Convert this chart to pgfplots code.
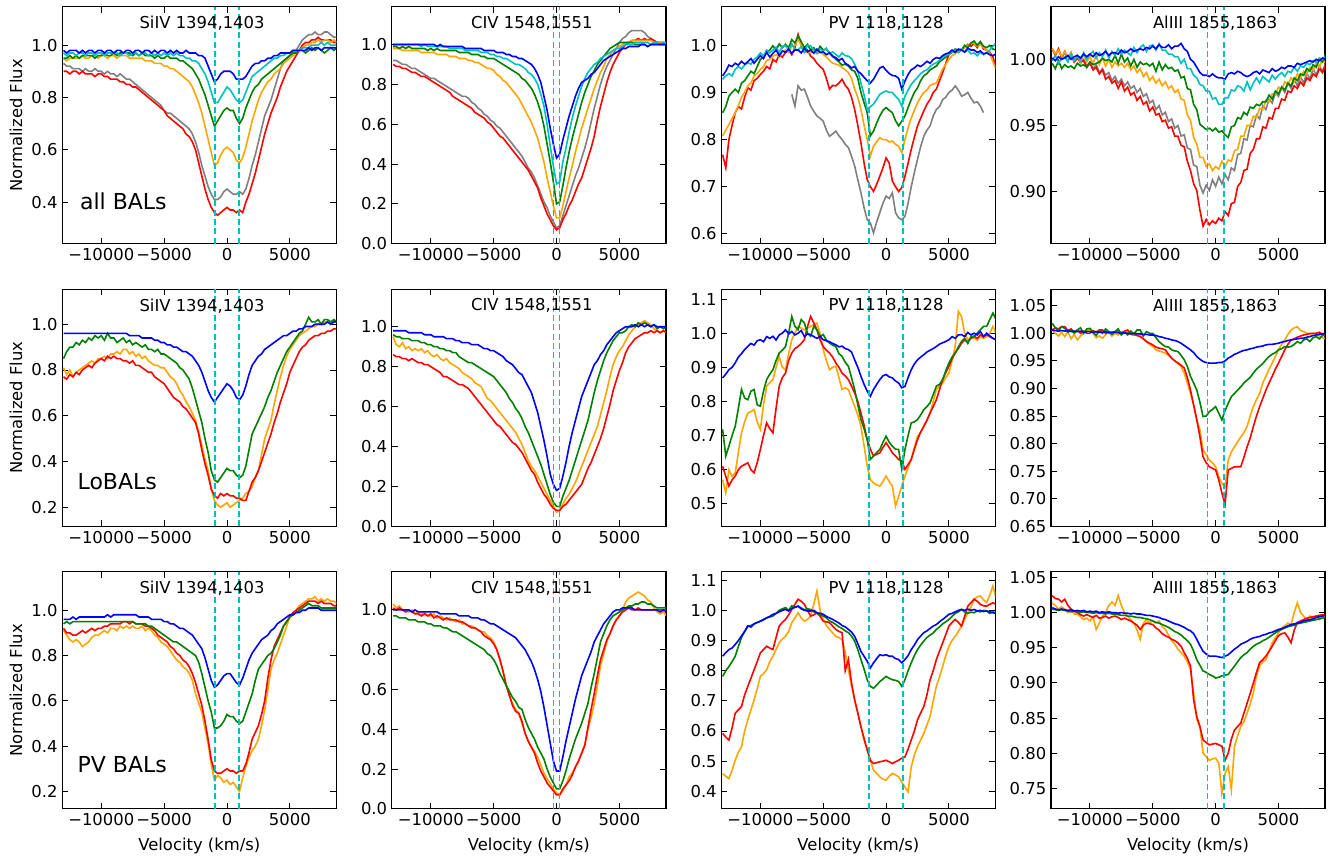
\documentclass[border=0pt]{standalone}
\usepackage{fontspec}
\setmainfont{DejaVu Sans}
\usepackage{pgfplots}
\usepackage{pgfplotstable}
\pgfplotsset{compat=1.18}
\usepgfplotslibrary{groupplots}
\definecolor{cc}{rgb}{0,0.75,0.75}
\definecolor{cg}{rgb}{0,0.5,0}
\definecolor{co}{rgb}{1,0.647,0}
\definecolor{cgr}{rgb}{0.5,0.5,0.5}
\newcommand\tk{\fontsize{12.3}{14}\selectfont}
\newcommand\bg{\fontsize{16.5}{19}\selectfont}
\tikzset{dln/.style={draw=cc,color=cc,line width=1.15pt,dash pattern=on 4.5pt off 2.5pt},
  ttl/.style={font=\tk,inner sep=0pt},
  big/.style={font=\bg,inner sep=0pt,anchor=west}}

\pgfplotstableread[header=false]{
v -13000 -12750 -12500 -12250  -12000 -11750 -11500 -11250  -11000 -10750 -10500 -10250  -10000 -9750 -9500 -9250  -9000 -8750 -8500 -8250  -8000 -7750 -7500 -7250  -7000 -6750 -6500 -6250  -6000 -5750 -5500 -5250  -5000 -4750 -4500 -4250  -4000 -3750 -3500 -3250  -3000 -2750 -2500 -2250  -2000 -1750 -1500 -1250  -1000 -750 -500 -250  0 250 500 750  1000 1250 1500 1750  2000 2250 2500 2750  3000 3250 3500 3750  4000 4250 4500 4750  5000 5250 5500 5750  6000 6250 6500 6750  7000 7250 7500 7750  8000 8250 8500 8750
p11g 0.93 0.92 0.92 0.91  0.91 0.91 0.90 0.91  0.90 0.90 0.91 0.90  0.90 0.89 0.90 0.89  0.89 0.88 0.89 0.88  0.87 0.87 0.86 0.85  0.84 0.83 0.82 0.81  0.80 0.79 0.78 0.77  0.75 0.74 0.74 0.73  0.72 0.71 0.70 0.69  0.68 0.66 0.63 0.59  0.54 0.50 0.46 0.43  0.41 0.41 0.42 0.44  0.45 0.44 0.43 0.43  0.44 0.43 0.45 0.49  0.54 0.58 0.63 0.68  0.73 0.76 0.79 0.83  0.87 0.91 0.94 0.95  0.96 0.97 0.98 1.00  1.02 1.03 1.04 1.04  1.05 1.04 1.04 1.05  1.05 1.04 1.03 1.03
p11r 0.90 0.90 0.89 0.90  0.90 0.89 0.90 0.89  0.89 0.89 0.88 0.89  0.89 0.88 0.88 0.87  0.87 0.87 0.86 0.86  0.85 0.85 0.84 0.84  0.83 0.82 0.81 0.80  0.79 0.78 0.77 0.76  0.75 0.73 0.72 0.71  0.70 0.69 0.68 0.66  0.65 0.63 0.60 0.55  0.50 0.45 0.41 0.38  0.36 0.35 0.36 0.37  0.38 0.37 0.37 0.36  0.37 0.36 0.40 0.43  0.47 0.51 0.56 0.61  0.66 0.70 0.74 0.77  0.80 0.84 0.87 0.90  0.92 0.94 0.96 0.98  1.00 1.01 1.01 1.02  1.02 1.03 1.02 1.02  1.02 1.02 1.01 1.01
p11o 0.95 0.94 0.95 0.95  0.95 0.95 0.96 0.95  0.95 0.96 0.96 0.95  0.96 0.96 0.95 0.96  0.96 0.95 0.96 0.96  0.96 0.95 0.95 0.95  0.95 0.95 0.94 0.94  0.94 0.93 0.93 0.93  0.92 0.92 0.91 0.91  0.90 0.89 0.88 0.87  0.86 0.84 0.81 0.78  0.74 0.69 0.64 0.59  0.54 0.55 0.58 0.60  0.61 0.60 0.59 0.56  0.55 0.57 0.61 0.66  0.71 0.75 0.79 0.82  0.84 0.86 0.87 0.89  0.90 0.91 0.93 0.94  0.95 0.96 0.97 0.98  0.99 1.00 1.00 1.01  1.01 1.02 1.01 1.02  1.02 1.01 1.02 1.01
p11n 0.95 0.95 0.96 0.95  0.96 0.95 0.96 0.96  0.96 0.96 0.95 0.96  0.96 0.97 0.96 0.96  0.97 0.96 0.97 0.97  0.97 0.97 0.96 0.97  0.96 0.97 0.96 0.96  0.96 0.95 0.96 0.95  0.95 0.96 0.95 0.95  0.95 0.94 0.94 0.93  0.92 0.91 0.89 0.87  0.84 0.81 0.77 0.73  0.69 0.71 0.73 0.75  0.76 0.75 0.75 0.72  0.70 0.72 0.76 0.79  0.82 0.84 0.85 0.87  0.88 0.89 0.90 0.91  0.92 0.93 0.94 0.95  0.96 0.97 0.97 0.98  0.98 0.97 0.98 0.99  0.98 0.99 0.98 0.97  0.98 0.99 0.98 0.99
p11c 0.97 0.96 0.97 0.97  0.96 0.97 0.97 0.96  0.97 0.97 0.96 0.97  0.97 0.96 0.97 0.97  0.97 0.97 0.96 0.97  0.97 0.96 0.97 0.97  0.96 0.97 0.97 0.96  0.97 0.96 0.97 0.96  0.97 0.96 0.97 0.96  0.97 0.96 0.96 0.95  0.95 0.94 0.94 0.93  0.91 0.89 0.86 0.82  0.78 0.78 0.80 0.82  0.84 0.83 0.81 0.79  0.78 0.79 0.82 0.85  0.88 0.89 0.90 0.91  0.92 0.93 0.94 0.95  0.95 0.96 0.96 0.97  0.97 0.98 0.98 0.98  0.99 0.99 0.99 1.00  1.00 1.00 1.01 1.00  1.01 1.00 1.00 1.00
p11b 0.98 0.97 0.98 0.98  0.98 0.97 0.98 0.97  0.98 0.98 0.97 0.98  0.98 0.97 0.98 0.98  0.97 0.98 0.98 0.97  0.98 0.98 0.97 0.98  0.98 0.97 0.98 0.98  0.97 0.98 0.97 0.98  0.98 0.97 0.98 0.97  0.98 0.97 0.97 0.98  0.97 0.97 0.97 0.96  0.96 0.95 0.92 0.89  0.86 0.87 0.89 0.90  0.90 0.90 0.89 0.87  0.87 0.87 0.88 0.90  0.92 0.93 0.93 0.94  0.94 0.95 0.95 0.96  0.96 0.97 0.97 0.97  0.97 0.98 0.98 0.98  0.98 0.98 0.99 0.98  0.99 0.99 0.98 0.99  0.99 0.99 0.99 0.99
p12g 0.92 0.92 0.91 0.90  0.90 0.89 0.88 0.88  0.87 0.86 0.85 0.84  0.83 0.83 0.82 0.81  0.80 0.79 0.78 0.77  0.76 0.75 0.74 0.74  0.73 0.71 0.70 0.68  0.67 0.65 0.64 0.62  0.61 0.59 0.58 0.56  0.54 0.52 0.50 0.48  0.46 0.44 0.41 0.38  0.36 0.33 0.29 0.25  0.21 0.18 0.14 0.11  0.08 0.09 0.14 0.19  0.24 0.29 0.34 0.38  0.43 0.48 0.54 0.61  0.68 0.74 0.80 0.85  0.89 0.92 0.95 0.98  1.01 1.03 1.04 1.06  1.07 1.07 1.07 1.07  1.06 1.04 1.03 1.02  1.01 1.01 1.00 1.01
p12r 0.90 0.89 0.89 0.88  0.88 0.87 0.86 0.86  0.85 0.84 0.84 0.83  0.82 0.81 0.80 0.79  0.78 0.77 0.76 0.74  0.73 0.72 0.71 0.70  0.69 0.68 0.66 0.65  0.64 0.63 0.61 0.60  0.58 0.56 0.54 0.53  0.51 0.49 0.47 0.45  0.43 0.41 0.39 0.37  0.34 0.31 0.28 0.23  0.19 0.15 0.12 0.09  0.07 0.08 0.12 0.15  0.19 0.22 0.26 0.30  0.33 0.38 0.43 0.48  0.54 0.62 0.69 0.75  0.81 0.86 0.90 0.93  0.96 0.98 1.00 1.01  1.02 1.02 1.03 1.02  1.03 1.02 1.03 1.02  1.01 1.01 1.01 1.00
p12o 0.98 0.98 0.98 0.97  0.97 0.97 0.97 0.97  0.97 0.96 0.96 0.96  0.96 0.96 0.95 0.95  0.95 0.95 0.94 0.94  0.94 0.93 0.93 0.93  0.92 0.92 0.91 0.91  0.90 0.89 0.88 0.88  0.87 0.85 0.84 0.82  0.81 0.79 0.77 0.75  0.73 0.70 0.67 0.64  0.61 0.57 0.53 0.47  0.41 0.33 0.26 0.19  0.13 0.13 0.19 0.26  0.33 0.39 0.46 0.52  0.58 0.63 0.68 0.73  0.78 0.82 0.86 0.89  0.93 0.95 0.97 0.98  0.99 1.00 1.01 1.01  1.02 1.02 1.02 1.02  1.02 1.02 1.02 1.01  1.01 1.01 1.01 1.00
p12n 0.99 0.99 0.98 0.99  0.98 0.99 0.98 0.98  0.98 0.98 0.98 0.97  0.98 0.97 0.98 0.97  0.97 0.97 0.97 0.97  0.97 0.96 0.96 0.96  0.96 0.95 0.95 0.95  0.94 0.94 0.93 0.93  0.93 0.92 0.91 0.90  0.89 0.88 0.87 0.86  0.85 0.83 0.82 0.80  0.78 0.75 0.71 0.66  0.59 0.50 0.41 0.31  0.20 0.21 0.29 0.38  0.46 0.53 0.59 0.65  0.71 0.76 0.80 0.84  0.87 0.90 0.92 0.94  0.96 0.98 0.99 1.00  1.01 1.01 1.01 1.01  1.01 1.00 1.00 1.00  1.00 0.99 1.00 1.00  1.00 1.00 1.00 1.00
p12c 1.00 1.00 1.00 1.00  1.00 1.00 1.00 1.00  1.00 0.99 1.00 0.99  0.99 0.99 0.99 0.99  0.99 0.99 0.98 0.98  0.98 0.98 0.98 0.97  0.97 0.97 0.97 0.97  0.96 0.96 0.96 0.95  0.95 0.94 0.94 0.93  0.93 0.92 0.91 0.90  0.90 0.89 0.88 0.86  0.85 0.83 0.80 0.75  0.69 0.60 0.49 0.39  0.30 0.31 0.41 0.48  0.56 0.63 0.69 0.74  0.79 0.83 0.86 0.88  0.90 0.91 0.93 0.94  0.95 0.96 0.97 0.98  0.98 0.99 1.00 1.00  1.00 1.01 1.01 1.01  1.01 1.01 1.00 1.01  1.01 1.00 1.01 1.01
p12b 1.00 1.00 1.00 1.00  1.00 1.00 1.00 1.00  1.00 1.00 1.00 1.00  1.00 1.00 0.99 1.00  0.99 0.99 0.99 0.99  0.99 0.99 0.99 0.98  0.98 0.98 0.98 0.98  0.98 0.97 0.97 0.97  0.97 0.96 0.96 0.96  0.95 0.95 0.94 0.94  0.93 0.93 0.92 0.91  0.90 0.88 0.85 0.81  0.74 0.67 0.58 0.50  0.43 0.45 0.52 0.58  0.64 0.69 0.74 0.78  0.81 0.82 0.83 0.85  0.86 0.88 0.90 0.92  0.93 0.94 0.95 0.96  0.97 0.98 0.98 0.99  0.99 0.99 0.99 1.00  1.00 0.99 1.00 1.00  1.00 1.00 1.00 1.00
p13g nan nan nan nan  nan nan nan nan  nan nan nan nan  nan nan nan nan  nan nan nan nan  nan nan 0.896 0.871  0.914 0.905 0.907 0.89  0.871 0.86 0.85 0.845  0.839 0.82 0.807 0.812  0.818 0.808 0.8 0.79  0.783 0.765 0.744 0.715  0.687 0.655 0.63 0.623  0.602 0.625 0.645 0.665  0.68 0.675 0.687 0.645  0.634 0.63 0.637 0.665  0.7 0.73 0.758 0.785  0.807 0.82 0.829 0.85  0.864 0.87 0.885 0.89  0.9 0.905 0.914 0.905  0.892 0.895 0.9 0.888  0.878 0.88 0.871 0.857  nan nan nan nan
p13r 0.768 0.74 0.8 0.83  0.857 0.87 0.865 0.89  0.91 0.905 0.925 0.93  0.938 0.945 0.955 0.95  0.97 0.965 0.98 0.975  0.985 0.99 0.98 0.995  1.023 1.0 0.985 0.99  0.977 0.972 0.962 0.955  0.949 0.93 0.907 0.915  0.914 0.92 0.928 0.915  0.907 0.89 0.864 0.83  0.793 0.75 0.715 0.7  0.69 0.705 0.722 0.74  0.761 0.75 0.712 0.7  0.69 0.698 0.722 0.75  0.779 0.805 0.829 0.845  0.861 0.875 0.885 0.9  0.907 0.925 0.942 0.962  0.981 0.985 0.99 0.985  0.99 0.995 1.002 0.998  1.004 0.995 1.005 0.992  0.99 0.985 0.975 0.953
p13o 0.808 0.82 0.832 0.845  0.857 0.872 0.89 0.9  0.914 0.92 0.935 0.94  0.949 0.955 0.968 0.97  0.977 0.98 0.975 0.988  0.99 0.985 0.998 1.0  1.013 1.0 0.99 0.985  0.984 0.99 0.982 0.985  0.981 0.975 0.968 0.962  0.96 0.958 0.953 0.948  0.942 0.93 0.907 0.89  0.864 0.83 0.8 0.765  0.786 0.795 0.804 0.8  0.8 0.795 0.797 0.79  0.786 0.772 0.8 0.825  0.846 0.862 0.878 0.89  0.9 0.905 0.915 0.918  0.92 0.935 0.95 0.96  0.97 0.978 0.982 0.988  0.99 0.995 1.0 1.004  1.004 0.998 1.002 0.995  0.99 0.982 0.965 0.949
p13n 0.857 0.87 0.892 0.9  0.907 0.9 0.92 0.925  0.935 0.945 0.94 0.955  0.97 0.975 0.985 0.99  0.999 0.99 1.003 0.995  1.002 0.995 1.012 1.005  1.02 1.008 0.995 1.002  0.99 0.995 0.985 0.998  0.99 0.992 0.984 0.978  0.97 0.965 0.958 0.96  0.956 0.948 0.945 0.93  0.9 0.878 0.857 0.808  0.818 0.835 0.85 0.862  0.868 0.862 0.857 0.84  0.829 0.839 0.85 0.868  0.885 0.9 0.91 0.925  0.935 0.94 0.948 0.952  0.956 0.965 0.97 0.975  0.981 0.985 0.992 0.99  0.99 1.0 0.995 1.005  1.009 1.0 1.008 0.998  0.995 1.0 0.992 0.99
p13c 0.928 0.935 0.94 0.935  0.949 0.955 0.95 0.958  0.963 0.96 0.97 0.975  0.984 0.978 0.99 0.984  0.99 0.996 0.985 0.998  0.999 0.99 1.003 0.992  0.99 0.997 0.986 1.0  0.999 0.99 0.985 0.992  0.988 0.994 0.982 0.986  0.981 0.975 0.984 0.978  0.977 0.972 0.96 0.945  0.92 0.895 0.864 0.87  0.875 0.885 0.896 0.9  0.903 0.9 0.9 0.892  0.885 0.871 0.892 0.905  0.917 0.925 0.932 0.94  0.945 0.948 0.955 0.96  0.963 0.968 0.975 0.978  0.981 0.986 0.99 0.985  0.992 0.985 0.99 0.982  0.984 0.978 0.985 0.98  0.984 0.99 0.998 1.005
p13b 0.935 0.945 0.958 0.955  0.962 0.958 0.966 0.96  0.965 0.972 0.962 0.97  0.978 0.972 0.985 0.975  0.983 0.99 0.978 0.988  0.985 0.992 0.983 0.99  0.99 0.984 0.994 0.986  0.99 0.983 0.992 0.985  0.986 0.98 0.984 0.976  0.974 0.968 0.972 0.962  0.958 0.952 0.955 0.945  0.94 0.932 0.925 0.92  0.928 0.94 0.952 0.955  0.947 0.94 0.936 0.935  0.93 0.907 0.924 0.938  0.948 0.952 0.958 0.955  0.96 0.966 0.962 0.97  0.974 0.972 0.978 0.982  0.984 0.99 0.985 0.992  0.99 0.986 0.994 0.99  0.99 0.985 0.988 0.982  0.984 0.98 0.978 0.982
p14g 1.008 1.004 1.007 1.002  1.005 1.0 1.003 0.998  1.002 0.997 1.0 0.995  0.998 0.993 0.996 0.99  0.993 0.988 0.99 0.984  0.987 0.982 0.985 0.98  0.983 0.978 0.98 0.975  0.978 0.972 0.974 0.967  0.969 0.962 0.965 0.958  0.96 0.953 0.955 0.948  0.95 0.942 0.943 0.933  0.932 0.92 0.919 0.905  0.899 0.905 0.901 0.909  0.904 0.911 0.906 0.913  0.909 0.918 0.916 0.928  0.929 0.94 0.939 0.95  0.949 0.958 0.955 0.965  0.962 0.97 0.967 0.975  0.972 0.979 0.975 0.982  0.978 0.985 0.98 0.987  0.982 0.99 0.985 0.993  0.988 0.995 0.991 0.997
p14r 1.008 1.003 1.008 1.001  1.006 1.0 1.005 0.998  1.001 0.998 0.999 0.994  0.997 0.992 0.994 0.989  0.992 0.985 0.987 0.982  0.984 0.978 0.983 0.976  0.979 0.973 0.975 0.969  0.972 0.966 0.968 0.961  0.964 0.958 0.959 0.953  0.954 0.948 0.949 0.942  0.942 0.935 0.934 0.923  0.916 0.906 0.901 0.886  0.874 0.879 0.875 0.878  0.876 0.88 0.878 0.885  0.882 0.891 0.892 0.904  0.907 0.916 0.917 0.929  0.932 0.94 0.94 0.949  0.948 0.956 0.955 0.963  0.963 0.97 0.969 0.976  0.975 0.98 0.978 0.983  0.98 0.986 0.984 0.989  0.987 0.993 0.99 0.996
p14o 1.008 1.004 1.007 1.002  1.006 1.0 1.005 0.999  1.003 0.998 1.004 0.998  1.002 0.997 1.003 0.996  1.001 0.995 1.0 0.994  0.998 0.995 0.997 0.994  0.997 0.992 0.995 0.99  0.993 0.987 0.99 0.984  0.987 0.982 0.985 0.98  0.983 0.978 0.98 0.975  0.977 0.97 0.969 0.958  0.954 0.941 0.936 0.926  0.926 0.919 0.921 0.916  0.919 0.917 0.923 0.919  0.924 0.923 0.931 0.932  0.942 0.942 0.95 0.95  0.957 0.956 0.963 0.962  0.969 0.968 0.974 0.973  0.979 0.977 0.983 0.981  0.986 0.983 0.989 0.986  0.991 0.989 0.994 0.992  0.997 0.994 1.0 0.997
p14n 0.997 0.993 0.999 0.993  0.996 0.994 0.995 0.993  0.997 0.995 0.996 0.994  0.998 0.996 0.997 0.998  1.001 0.999 1.0 0.998  1.003 0.997 1.004 0.998  1.001 0.995 1.0 0.994  0.998 0.996 0.997 0.995  0.997 0.991 0.998 0.992  0.996 0.993 0.994 0.991  0.992 0.986 0.987 0.978  0.977 0.966 0.962 0.951  0.949 0.947 0.948 0.946  0.948 0.945 0.946 0.943  0.941 0.949 0.95 0.956  0.955 0.96 0.958 0.964  0.963 0.966 0.965 0.968  0.968 0.973 0.97 0.976  0.974 0.979 0.977 0.982  0.98 0.986 0.984 0.989  0.988 0.993 0.991 0.996  0.994 1.0 0.998 1.004
p14c 0.999 1.003 0.997 1.001  1.002 0.998 1.004 0.999  1.003 0.999 1.005 1.0  1.004 1.006 1.001 1.005  1.002 1.007 1.001 1.006  1.003 1.008 1.004 1.007  1.005 1.003 1.009 1.005  1.009 1.011 1.006 1.01  1.011 1.007 1.012 1.007  1.007 1.004 1.004 1.002  1.002 0.997 1.0 0.993  0.993 0.988 0.986 0.981  0.98 0.976 0.976 0.97  0.971 0.966 0.966 0.971  0.971 0.977 0.976 0.98  0.979 0.976 0.983 0.977  0.982 0.986 0.982 0.987  0.985 0.983 0.988 0.985  0.988 0.99 0.987 0.991  0.99 0.994 0.991 0.995  0.994 0.997 0.996 0.999  0.998 1.001 1.0 1.002
p14b 1.001 0.999 1.002 1.0  1.001 1.003 1.0 1.002  1.003 1.001 1.004 1.002  1.004 1.002 1.005 1.003  1.004 1.006 1.003 1.005  1.005 1.004 1.007 1.005  1.006 1.008 1.006 1.007  1.008 1.007 1.009 1.008  1.01 1.008 1.011 1.009  1.009 1.011 1.008 1.01  1.01 1.012 1.008 1.006  1.0 0.998 0.994 0.99  0.988 0.988 0.987 0.989  0.987 0.986 0.986 0.985  0.989 0.99 0.989 0.991  0.99 0.988 0.987 0.988  0.99 0.991 0.989 0.992  0.991 0.99 0.993 0.991  0.992 0.994 0.993 0.995  0.995 0.994 0.997 0.996  0.997 0.998 0.999 0.998  1.0 0.999 1.001 1.0
p21o 0.81 0.78 0.80 0.77  0.79 0.80 0.81 0.82  0.83 0.84 0.83 0.85  0.85 0.86 0.85 0.87  0.87 0.88 0.87 0.89  0.89 0.87 0.88 0.86  0.87 0.85 0.86 0.84  0.83 0.82 0.82 0.81  0.81 0.79 0.77 0.76  0.74 0.71 0.69 0.66  0.64 0.61 0.58 0.53  0.47 0.41 0.36 0.28  0.23 0.21 0.20 0.21  0.22 0.20 0.21 0.22  0.23 0.24 0.26 0.27  0.29 0.33 0.36 0.43  0.50 0.54 0.58 0.65  0.71 0.77 0.82 0.86  0.89 0.91 0.93 0.95  0.96 0.97 0.98 0.99  0.99 1.00 1.00 1.01  1.01 1.00 1.01 1.01
p21r 0.77 0.76 0.78 0.77  0.79 0.78 0.80 0.81  0.82 0.81 0.83 0.84  0.85 0.84 0.86 0.85  0.86 0.85 0.85 0.84  0.84 0.83 0.84 0.82  0.82 0.81 0.80 0.79  0.79 0.77 0.76 0.75  0.74 0.72 0.70 0.68  0.67 0.66 0.64 0.63  0.61 0.59 0.57 0.52  0.45 0.39 0.34 0.28  0.25 0.24 0.26 0.25  0.26 0.25 0.25 0.24  0.24 0.23 0.23 0.27  0.31 0.33 0.36 0.40  0.44 0.48 0.52 0.57  0.61 0.66 0.70 0.74  0.79 0.82 0.85 0.88  0.90 0.91 0.93 0.94  0.95 0.95 0.96 0.96  0.97 0.97 0.98 0.98
p21n 0.85 0.88 0.90 0.90  0.92 0.91 0.93 0.92  0.94 0.93 0.95 0.94  0.95 0.93 0.96 0.94  0.94 0.92 0.93 0.94  0.92 0.93 0.91 0.92  0.91 0.90 0.91 0.89  0.89 0.88 0.89 0.87  0.87 0.86 0.85 0.84  0.83 0.81 0.80 0.78  0.76 0.72 0.67 0.62  0.57 0.50 0.44 0.36  0.32 0.31 0.33 0.35  0.37 0.36 0.36 0.34  0.33 0.34 0.38 0.45  0.52 0.55 0.58 0.61  0.64 0.68 0.71 0.75  0.79 0.82 0.85 0.88  0.90 0.92 0.94 0.96  0.97 1.00 1.03 1.01  1.01 1.02 1.00 1.02  1.02 1.01 1.02 1.01
p21b 0.96 0.96 0.96 0.96  0.96 0.96 0.96 0.96  0.96 0.96 0.96 0.96  0.96 0.96 0.96 0.96  0.96 0.96 0.96 0.96  0.96 0.95 0.95 0.95  0.95 0.94 0.94 0.94  0.94 0.93 0.93 0.92  0.92 0.91 0.91 0.90  0.90 0.89 0.88 0.88  0.87 0.86 0.84 0.82  0.79 0.75 0.71 0.68  0.66 0.68 0.70 0.72  0.74 0.73 0.71 0.68  0.67 0.69 0.73 0.78  0.82 0.84 0.86 0.87  0.89 0.90 0.91 0.92  0.93 0.94 0.95 0.95  0.96 0.97 0.97 0.98  0.98 0.99 0.99 0.99  1.00 1.00 1.00 1.00  1.01 1.00 1.01 1.01
p22o 0.95 0.91 0.90 0.92  0.89 0.90 0.88 0.89  0.88 0.89 0.87 0.88  0.86 0.85 0.86 0.84  0.83 0.84 0.82 0.81  0.80 0.79 0.77 0.76  0.75 0.74 0.72 0.71  0.70 0.67 0.64 0.63  0.61 0.59 0.57 0.55  0.53 0.51 0.49 0.47  0.44 0.41 0.37 0.33  0.30 0.28 0.25 0.22  0.19 0.16 0.13 0.10  0.07 0.08 0.11 0.14  0.16 0.19 0.22 0.26  0.30 0.34 0.38 0.42  0.46 0.50 0.56 0.62  0.68 0.75 0.81 0.85  0.88 0.90 0.93 0.96  0.98 1.00 1.01 1.02  1.03 1.02 1.01 0.99  0.98 0.97 0.98 0.97
p22r 0.86 0.85 0.85 0.84  0.84 0.83 0.84 0.83  0.82 0.82 0.81 0.81  0.80 0.79 0.78 0.77  0.75 0.75 0.74 0.73  0.72 0.71 0.71 0.70  0.69 0.67 0.65 0.63  0.61 0.59 0.57 0.55  0.53 0.51 0.50 0.48  0.46 0.44 0.42 0.41  0.39 0.37 0.34 0.31  0.28 0.26 0.22 0.19  0.16 0.14 0.11 0.09  0.08 0.08 0.10 0.11  0.13 0.15 0.17 0.19  0.21 0.25 0.29 0.32  0.36 0.40 0.44 0.49  0.55 0.61 0.68 0.73  0.78 0.82 0.87 0.90  0.92 0.94 0.95 0.96  0.97 0.97 0.98 0.97  0.98 0.97 0.98 0.97
p22n 0.96 0.95 0.95 0.94  0.94 0.94 0.93 0.93  0.93 0.92 0.92 0.91  0.91 0.90 0.90 0.89  0.89 0.88 0.88 0.87  0.87 0.85 0.84 0.83  0.82 0.82 0.81 0.80  0.79 0.78 0.77 0.76  0.75 0.73 0.71 0.69  0.67 0.64 0.62 0.59  0.57 0.54 0.50 0.47  0.43 0.39 0.35 0.31  0.26 0.21 0.16 0.12  0.10 0.10 0.15 0.19  0.23 0.28 0.33 0.38  0.43 0.48 0.53 0.60  0.67 0.73 0.78 0.83  0.87 0.90 0.93 0.95  0.97 0.97 0.98 1.00  1.01 1.00 1.02 1.01  1.02 1.01 1.00 1.01  0.99 1.00 0.99 1.00
p22b 0.98 0.98 0.98 0.98  0.98 0.97 0.97 0.97  0.97 0.97 0.96 0.96  0.96 0.95 0.95 0.95  0.95 0.94 0.94 0.94  0.93 0.93 0.92 0.92  0.92 0.91 0.91 0.91  0.90 0.89 0.89 0.88  0.88 0.87 0.86 0.85  0.83 0.82 0.81 0.79  0.77 0.76 0.73 0.70  0.67 0.62 0.57 0.50  0.43 0.35 0.26 0.21  0.18 0.19 0.25 0.32  0.40 0.47 0.53 0.59  0.65 0.69 0.73 0.77  0.81 0.83 0.86 0.88  0.91 0.93 0.95 0.97  0.98 0.99 1.00 1.00  1.00 1.01 1.00 1.01  1.00 1.01 1.00 1.01  1.00 1.00 1.00 1.00
p23o 0.571 0.532 0.6 0.58  0.591 0.65 0.708 0.74  0.766 0.77 0.776 0.74  0.718 0.79 0.845 0.855  0.864 0.9 0.932 0.9  0.893 0.94 0.981 1.0  1.02 1.015 1.01 1.015  1.02 1.025 1.03 1.0  0.952 0.92 0.893 0.9  0.903 0.87 0.835 0.84  0.835 0.81 0.786 0.76  0.727 0.67 0.61 0.571  0.561 0.555 0.552 0.565  0.581 0.565 0.552 0.493  0.522 0.552 0.581 0.605  0.63 0.665 0.698 0.71  0.727 0.745 0.766 0.8  0.835 0.845 0.854 0.87  0.883 0.92 0.961 1.064  1.049 1.0 0.981 0.985  0.986 0.98 0.99 0.985  0.99 1.0 1.02 1.0
p23r 0.61 0.58 0.552 0.57  0.581 0.6 0.61 0.615  0.62 0.6 0.591 0.62  0.659 0.7 0.737 0.72  0.708 0.78 0.845 0.87  0.883 0.92 0.942 0.955  0.961 0.97 0.981 1.02  1.049 1.03 1.01 0.98  0.961 0.95 0.942 0.93  0.913 0.9 0.883 0.875  0.864 0.845 0.825 0.8  0.766 0.73 0.688 0.66  0.64 0.645 0.649 0.665  0.679 0.665 0.649 0.64  0.63 0.625 0.601 0.615  0.63 0.66 0.688 0.71  0.727 0.745 0.766 0.785  0.805 0.835 0.864 0.885  0.903 0.925 0.942 0.955  0.971 0.98 0.975 0.985  0.991 0.985 0.995 0.99  0.996 0.99 0.985 0.98
p23n 0.718 0.64 0.669 0.7  0.727 0.78 0.835 0.81  0.805 0.83 0.835 0.79  0.786 0.83 0.864 0.88  0.893 0.92 0.942 0.95  0.961 1.0 1.049 1.02  1.01 1.04 1.03 1.0  0.991 1.02 1.01 0.99  0.996 0.98 0.971 0.965  0.961 0.94 0.932 0.915  0.903 0.87 0.835 0.79  0.747 0.72 0.688 0.63  0.64 0.65 0.659 0.68  0.698 0.68 0.669 0.66  0.659 0.601 0.659 0.7  0.737 0.74 0.747 0.76  0.776 0.785 0.796 0.82  0.845 0.85 0.864 0.89  0.913 0.93 0.942 0.96  0.976 0.985 0.97 0.99  0.991 1.0 1.01 1.02  1.02 1.04 1.059 1.04
p23b 0.869 0.88 0.893 0.9  0.913 0.93 0.94 0.952  0.961 0.97 0.965 0.978  0.981 0.975 0.99 0.985  0.991 0.98 0.995 1.0  1.01 0.998 1.005 0.995  1.0 1.008 0.99 0.998  0.996 0.99 0.985 0.99  0.981 0.978 0.975 0.97  0.966 0.96 0.962 0.955  0.952 0.945 0.922 0.9  0.874 0.85 0.83 0.815  0.835 0.85 0.864 0.875  0.879 0.872 0.869 0.86  0.854 0.84 0.844 0.87  0.893 0.91 0.922 0.93  0.937 0.945 0.95 0.955  0.961 0.968 0.972 0.976  0.981 0.99 0.985 0.995  0.996 0.99 1.002 0.995  1.0 0.995 1.005 0.99  1.0 0.992 0.985 0.981
p24o 1.006 1.0 0.995 1.002  0.994 1.003 0.99 0.998  0.988 0.995 1.0 1.006  1.006 1.0 0.992 0.995  0.991 0.998 1.002 0.995  1.0 0.997 1.003 1.0  1.003 0.998 0.996 1.0  0.997 0.99 0.985 0.98  0.976 0.97 0.968 0.966  0.964 0.96 0.955 0.95  0.946 0.94 0.928 0.91  0.891 0.87 0.843 0.825  0.788 0.78 0.77 0.765  0.758 0.74 0.728 0.722  0.77 0.785 0.794 0.803  0.812 0.82 0.831 0.85  0.867 0.88 0.891 0.91  0.922 0.935 0.946 0.958  0.97 0.98 0.988 0.998  1.006 1.01 1.012 1.005  1.003 1.0 0.998 1.0  1.0 0.995 0.992 0.99
p24r 1.006 1.01 1.008 1.012  1.012 1.005 1.008 1.002  1.006 1.0 1.004 1.0  1.0 1.005 1.002 1.006  1.006 1.0 1.003 1.001  1.003 1.005 1.0 1.004  1.006 1.0 0.998 0.996  0.994 0.99 0.985 0.982  0.979 0.975 0.973 0.972  0.97 0.962 0.955 0.95  0.946 0.942 0.937 0.92  0.897 0.87 0.843 0.812  0.776 0.765 0.758 0.755  0.752 0.734 0.71 0.69  0.752 0.755 0.758 0.758  0.758 0.775 0.794 0.81  0.831 0.85 0.867 0.882  0.897 0.91 0.922 0.935  0.946 0.958 0.97 0.98  0.988 0.99 0.993 0.995  0.997 0.998 1.0 1.0  1.0 1.002 0.998 0.995
p24n 1.018 1.01 1.005 1.012  1.009 1.002 1.006 1.0  1.006 1.01 1.0 1.008  1.009 1.002 0.996 1.005  1.0 1.008 1.003 0.998  1.003 1.008 0.997 1.002  0.997 1.004 0.999 1.006  1.006 0.995 1.003 1.0  1.0 0.992 0.985 0.98  0.976 0.975 0.97 0.968  0.967 0.96 0.952 0.94  0.922 0.91 0.897 0.875  0.849 0.85 0.858 0.862  0.867 0.855 0.843 0.86  0.873 0.885 0.891 0.897  0.903 0.91 0.915 0.92  0.928 0.935 0.94 0.945  0.952 0.958 0.962 0.965  0.97 0.972 0.976 0.975  0.976 0.98 0.985 0.982  0.988 0.99 0.985 0.992  0.994 0.99 0.996 0.997
p24b 1.006 1.005 1.004 1.005  1.004 1.005 1.003 1.004  1.003 1.004 1.002 1.003  1.003 1.002 1.003 1.002  1.002 1.003 1.001 1.002  1.002 1.001 1.0 1.001  1.0 0.999 1.0 0.999  0.999 0.998 0.998 0.997  0.997 0.996 0.994 0.993  0.991 0.99 0.988 0.987  0.985 0.982 0.978 0.974  0.97 0.965 0.958 0.953  0.949 0.947 0.946 0.946  0.946 0.947 0.947 0.95  0.955 0.958 0.962 0.964  0.967 0.969 0.97 0.972  0.973 0.975 0.976 0.977  0.979 0.98 0.98 0.981  0.982 0.984 0.985 0.987  0.988 0.989 0.99 0.991  0.991 0.993 0.994 0.996  0.997 0.998 0.999 1.0
p31o 0.91 0.89 0.87 0.86  0.87 0.86 0.84 0.85  0.86 0.88 0.89 0.89  0.90 0.91 0.90 0.92  0.92 0.91 0.93 0.92  0.93 0.92 0.93 0.92  0.92 0.93 0.91 0.92  0.91 0.89 0.88 0.86  0.85 0.84 0.82 0.80  0.78 0.77 0.75 0.74  0.72 0.69 0.63 0.59  0.55 0.48 0.41 0.32  0.25 0.27 0.26 0.24  0.25 0.23 0.24 0.22  0.20 0.26 0.31 0.35  0.38 0.40 0.43 0.49  0.56 0.65 0.74 0.78  0.81 0.85 0.89 0.93  0.97 0.98 1.00 1.02  1.03 1.04 1.05 1.05  1.06 1.04 1.05 1.04  1.05 1.04 1.04 1.03
p31r 0.92 0.90 0.90 0.89  0.89 0.90 0.91 0.90  0.91 0.92 0.91 0.92  0.92 0.93 0.93 0.94  0.94 0.94 0.94 0.95  0.95 0.94 0.95 0.94  0.94 0.94 0.93 0.93  0.92 0.91 0.89 0.88  0.87 0.86 0.84 0.83  0.81 0.80 0.78 0.77  0.75 0.72 0.68 0.63  0.58 0.51 0.43 0.34  0.29 0.28 0.28 0.29  0.30 0.29 0.29 0.28  0.29 0.29 0.32 0.37  0.43 0.46 0.49 0.54  0.60 0.70 0.78 0.84  0.87 0.90 0.93 0.95  0.97 0.99 1.00 1.01  1.02 1.03 1.04 1.04  1.04 1.03 1.04 1.03  1.03 1.03 1.02 1.02
p31n 0.94 0.95 0.94 0.95  0.95 0.95 0.95 0.95  0.95 0.95 0.95 0.95  0.95 0.95 0.95 0.95  0.95 0.95 0.95 0.95  0.95 0.95 0.95 0.94  0.94 0.94 0.94 0.93  0.93 0.92 0.91 0.90  0.89 0.88 0.87 0.86  0.86 0.85 0.84 0.83  0.82 0.81 0.80 0.77  0.72 0.66 0.60 0.55  0.48 0.48 0.49 0.51  0.54 0.53 0.53 0.51  0.50 0.51 0.55 0.59  0.63 0.69 0.74 0.76  0.78 0.80 0.81 0.83  0.86 0.89 0.93 0.95  0.97 0.98 0.99 1.00  1.01 1.02 1.03 1.02  1.02 1.02 1.01 1.01  1.01 1.01 1.01 1.01
p31b 0.96 0.96 0.96 0.97  0.96 0.97 0.97 0.97  0.97 0.97 0.97 0.97  0.97 0.97 0.98 0.97  0.98 0.98 0.98 0.98  0.98 0.98 0.98 0.98  0.97 0.97 0.97 0.97  0.96 0.96 0.96 0.96  0.95 0.95 0.94 0.94  0.93 0.92 0.92 0.91  0.90 0.89 0.87 0.85  0.83 0.79 0.74 0.69  0.66 0.67 0.69 0.71  0.72 0.72 0.70 0.68  0.67 0.70 0.74 0.78  0.81 0.83 0.85 0.87  0.88 0.89 0.91 0.92  0.94 0.95 0.96 0.97  0.98 0.98 0.99 0.99  1.00 1.00 1.01 1.01  1.01 1.01 1.00 1.00  1.00 1.00 1.00 1.00
p32o 1.03 1.01 1.02 1.00  1.00 0.99 1.00 0.98  0.99 0.98 0.99 0.97  0.97 0.98 0.96 0.97  0.96 0.95 0.96 0.95  0.94 0.95 0.93 0.93  0.92 0.92 0.91 0.90  0.89 0.89 0.87 0.86  0.84 0.80 0.75 0.69  0.62 0.57 0.53 0.50  0.48 0.43 0.38 0.34  0.31 0.29 0.26 0.22  0.18 0.15 0.13 0.10  0.08 0.07 0.09 0.12  0.16 0.18 0.21 0.24  0.28 0.32 0.40 0.46  0.53 0.62 0.72 0.78  0.84 0.88 0.92 0.95  0.97 1.00 1.04 1.06  1.07 1.08 1.09 1.08  1.07 1.05 1.04 1.01  0.99 0.98 0.99 0.97
p32r 1.01 1.00 1.01 1.00  0.99 1.00 0.99 0.98  0.98 0.97 0.98 0.97  0.98 0.96 0.97 0.96  0.95 0.96 0.95 0.95  0.95 0.94 0.94 0.93  0.92 0.91 0.91 0.90  0.89 0.87 0.86 0.85  0.83 0.80 0.75 0.69  0.62 0.57 0.52 0.49  0.48 0.44 0.38 0.34  0.31 0.28 0.23 0.19  0.16 0.13 0.11 0.09  0.07 0.07 0.10 0.12  0.14 0.17 0.21 0.24  0.28 0.32 0.41 0.50  0.58 0.67 0.75 0.80  0.85 0.88 0.92 0.95  0.97 0.99 1.00 1.01  1.00 1.00 1.01 1.00  1.00 1.00 1.00 1.00  1.00 1.00 1.00 1.00
p32n 0.97 0.97 0.96 0.96  0.96 0.95 0.95 0.95  0.94 0.94 0.94 0.93  0.93 0.92 0.92 0.92  0.91 0.91 0.90 0.89  0.89 0.88 0.87 0.86  0.85 0.84 0.83 0.82  0.81 0.80 0.78 0.77  0.75 0.72 0.68 0.65  0.62 0.59 0.56 0.54  0.51 0.50 0.45 0.41  0.38 0.35 0.31 0.28  0.25 0.20 0.16 0.13  0.10 0.10 0.14 0.19  0.25 0.30 0.35 0.39  0.43 0.48 0.53 0.61  0.68 0.76 0.84 0.88  0.92 0.95 0.97 0.98  0.99 1.00 1.01 1.02  1.02 1.03 1.03 1.04  1.04 1.03 1.03 1.02  1.01 1.01 1.01 1.01
p32b 1.00 1.00 1.00 1.00  1.00 1.00 0.99 1.00  0.99 0.99 0.99 0.99  0.99 0.99 0.99 0.98  0.98 0.98 0.98 0.98  0.98 0.97 0.97 0.97  0.97 0.96 0.96 0.96  0.95 0.95 0.94 0.93  0.93 0.92 0.91 0.90  0.89 0.88 0.87 0.86  0.84 0.82 0.80 0.77  0.74 0.70 0.65 0.59  0.51 0.42 0.33 0.24  0.19 0.19 0.26 0.34  0.41 0.48 0.55 0.61  0.67 0.71 0.75 0.79  0.84 0.87 0.90 0.93  0.95 0.97 0.99 1.00  1.00 1.01 1.01 1.01  1.01 1.00 1.00 1.00  1.00 1.00 1.00 1.00  1.00 0.99 1.00 0.99
p33o 0.459 0.45 0.442 0.47  0.503 0.53 0.548 0.6  0.637 0.67 0.703 0.74  0.781 0.79 0.803 0.83  0.848 0.87 0.892 0.905  0.914 0.93 0.959 0.975  0.992 0.975 0.964 0.97  0.981 1.02 1.064 1.0  0.97 0.95 0.937 0.925  0.914 0.91 0.903 0.86  0.803 0.75 0.703 0.66  0.614 0.57 0.537 0.503  0.47 0.46 0.448 0.44  0.437 0.45 0.459 0.455  0.448 0.43 0.414 0.398  0.481 0.52 0.548 0.57  0.592 0.62 0.648 0.7  0.748 0.78 0.814 0.85  0.881 0.9 0.914 0.93  0.948 0.97 0.992 1.01  1.037 1.045 1.048 1.035  1.026 1.05 1.081 1.04
p33r 0.592 0.58 0.57 0.61  0.659 0.67 0.681 0.72  0.748 0.775 0.803 0.83  0.859 0.87 0.881 0.875  0.87 0.91 0.948 0.96  0.97 0.985 1.003 1.02  1.037 1.03 1.02 1.0  0.981 0.985 0.992 0.98  0.964 0.962 0.959 0.948  0.937 0.93 0.926 0.8  0.837 0.76 0.703 0.66  0.614 0.575 0.537 0.503  0.492 0.495 0.498 0.5  0.503 0.498 0.492 0.498  0.503 0.51 0.514 0.54  0.57 0.6 0.637 0.66  0.681 0.72 0.77 0.8  0.837 0.865 0.892 0.92  0.948 0.96 0.97 0.96  0.948 0.98 1.014 1.025  1.037 1.03 1.02 1.015  1.014 1.02 1.025 1.02
p33n 0.781 0.8 0.814 0.83  0.848 0.88 0.91 0.93  0.948 0.95 0.955 0.96  0.964 0.968 0.975 0.978  0.981 0.99 1.0 1.005  1.009 1.0 1.015 1.01  1.014 1.008 1.002 1.005  1.003 0.995 0.99 0.985  0.981 0.975 0.965 0.96  0.953 0.945 0.94 0.932  0.926 0.915 0.898 0.87  0.837 0.805 0.77 0.748  0.742 0.752 0.764 0.772  0.781 0.775 0.77 0.768  0.764 0.748 0.77 0.8  0.826 0.85 0.87 0.885  0.898 0.91 0.918 0.925  0.937 0.945 0.955 0.962  0.97 0.98 0.99 0.995  1.003 0.995 0.99 0.994  0.992 0.998 0.995 1.0  0.998 0.99 0.995 0.99
p33b 0.848 0.86 0.87 0.875  0.887 0.9 0.915 0.93  0.948 0.945 0.955 0.96  0.964 0.97 0.975 0.98  0.987 0.99 0.995 1.0  1.003 0.998 1.006 1.01  1.014 1.005 1.0 0.998  0.998 1.0 0.992 0.99  0.987 0.98 0.975 0.97  0.964 0.958 0.95 0.945  0.937 0.928 0.914 0.89  0.864 0.848 0.831 0.809  0.826 0.84 0.853 0.85  0.853 0.848 0.848 0.84  0.837 0.826 0.837 0.85  0.87 0.885 0.903 0.915  0.926 0.932 0.94 0.948  0.953 0.962 0.97 0.978  0.987 0.99 0.995 1.0  1.003 1.0 1.004 1.0  1.003 0.998 1.0 0.996  0.998 0.995 0.992 0.99
p34o 1.014 1.01 1.005 1.008  1.005 1.0 1.003 0.998  0.998 0.994 0.99 0.992  0.988 0.994 0.976 0.985  0.995 1.0 1.01 1.015  1.01 1.024 1.01 1.0  0.995 0.99 0.985 0.975  0.962 0.985 0.99 0.986  0.988 0.985 0.988 0.98  0.976 0.968 0.96 0.955  0.948 0.943 0.938 0.93  0.919 0.886 0.848 0.838  0.8 0.795 0.79 0.792  0.793 0.786 0.743 0.771  0.781 0.748 0.81 0.825  0.838 0.845 0.857 0.87  0.886 0.91 0.924 0.93  0.933 0.945 0.957 0.964  0.971 0.978 0.981 0.985  0.983 1.0 1.014 1.0  0.995 0.99 0.995 0.992  0.995 0.99 0.995 0.993
p34r 1.024 1.02 1.019 1.015  1.019 1.01 1.005 1.002  1.0 0.997 0.995 0.997  0.995 0.993 0.996 0.992  0.993 0.995 0.992 0.994  0.995 0.993 0.99 0.992  0.99 0.988 0.985 0.982  0.976 0.982 0.985 0.984  0.983 0.978 0.975 0.97  0.967 0.965 0.962 0.96  0.957 0.952 0.943 0.935  0.924 0.876 0.852 0.838  0.819 0.815 0.812 0.813  0.814 0.812 0.81 0.79  0.8 0.82 0.833 0.838  0.843 0.857 0.871 0.885  0.9 0.915 0.929 0.933  0.938 0.945 0.952 0.96  0.967 0.97 0.971 0.965  0.957 0.975 0.986 0.988  0.99 0.992 0.993 0.994  0.995 0.996 0.997 0.996
p34n 1.005 1.004 1.003 1.004  1.003 1.002 1.001 1.002  1.001 1.0 1.001 1.0  1.0 0.999 1.0 0.999  0.999 0.998 0.999 0.998  0.998 0.997 0.996 0.996  0.995 0.995 0.994 0.993  0.993 0.992 0.991 0.99  0.988 0.986 0.985 0.983  0.981 0.979 0.976 0.973  0.971 0.968 0.964 0.96  0.955 0.945 0.933 0.925  0.917 0.915 0.912 0.91  0.907 0.908 0.91 0.911  0.912 0.918 0.924 0.93  0.936 0.94 0.943 0.948  0.952 0.955 0.957 0.96  0.962 0.965 0.968 0.971  0.974 0.976 0.978 0.98  0.981 0.982 0.984 0.985  0.986 0.987 0.988 0.989  0.99 0.991 0.992 0.993
p34b 1.007 1.005 1.004 1.005  1.004 1.003 1.004 1.002  1.003 1.002 1.003 1.001  1.002 1.001 1.002 1.0  1.001 1.0 1.001 1.0  1.0 0.999 1.0 0.999  0.999 0.998 0.999 0.998  0.998 0.997 0.996 0.996  0.995 0.994 0.993 0.991  0.99 0.988 0.986 0.984  0.983 0.981 0.979 0.976  0.974 0.97 0.962 0.953  0.945 0.941 0.938 0.938  0.938 0.937 0.936 0.938  0.94 0.944 0.948 0.951  0.955 0.957 0.959 0.962  0.964 0.965 0.966 0.968  0.969 0.971 0.972 0.974  0.976 0.977 0.979 0.981  0.983 0.984 0.985 0.986  0.988 0.989 0.99 0.991  0.993 0.994 0.995 0.996
}\rawdata
\pgfplotstabletranspose[colnames from=0]{\D}{\rawdata}

\newcommand\six[1]{%
\addplot[cgr] table[x=v,y=#1g]{\D};
\addplot[red] table[x=v,y=#1r]{\D};
\addplot[co] table[x=v,y=#1o]{\D};
\addplot[cg] table[x=v,y=#1n]{\D};
\addplot[cc] table[x=v,y=#1c]{\D};
\addplot[blue] table[x=v,y=#1b]{\D};}
\newcommand\four[1]{%
\addplot[co] table[x=v,y=#1o]{\D};
\addplot[red] table[x=v,y=#1r]{\D};
\addplot[cg] table[x=v,y=#1n]{\D};
\addplot[blue] table[x=v,y=#1b]{\D};}
% dashed doublet markers: #1 half-separation, #2 ymin, #3 ymax
\newcommand\dl[3]{%
\addplot[dln] coordinates {(-#1,#2) (-#1,#3)};
\addplot[dln] coordinates {(#1,#2) (#1,#3)};}

\begin{document}
\begin{tikzpicture}
\begin{groupplot}[
  group style={group size=4 by 3, horizontal sep=41.6pt, vertical sep=34.1pt},
  width=205.5pt, height=177.75pt, scale only axis,
  xmin=-13100, xmax=8700,
  scaled x ticks=false, scaled y ticks=false,
  xtick={-10000,-5000,0,5000}, xticklabels={−10000,−5000,0,5000},
  tick align=inside, tick pos=both, major tick length=4.5pt,
  tick label style={font=\tk},
  axis line style={line width=0.9pt},
  every tick/.style={black,line width=0.7pt},
  every axis plot/.append style={line width=1.2pt},
  no markers,
  ylabel style={font=\tk, at={(axis description cs:-0.169,0.5)}, anchor=center},
  xlabel style={font=\tk, at={(axis description cs:0.5,-0.155)}, anchor=center},
]
% row 1
\nextgroupplot[ymin=0.241,ymax=1.147,ytick={0.4,0.6,0.8,1.0},yticklabels={0.4,0.6,0.8,1.0},ylabel={Normalized Flux}]
\six{p11}\dl{968}{0.241}{1.147}
\node[ttl] at (rel axis cs:0.51,0.93) {SiIV 1394,1403};
\node[big] at (rel axis cs:0.064,0.178) {all BALs};
\nextgroupplot[ymin=0,ymax=1.19,ytick={0,0.2,0.4,0.6,0.8,1.0},yticklabels={0.0,0.2,0.4,0.6,0.8,1.0}]
\six{p12}\dl{249}{0}{1.19}
\node[ttl] at (rel axis cs:0.511,0.93) {CIV 1548,1551};
\nextgroupplot[ymin=0.579,ymax=1.082,ytick={0.6,0.7,0.8,0.9,1.0},yticklabels={0.6,0.7,0.8,0.9,1.0}]
\six{p13}\dl{1345}{0.579}{1.082}
\node[ttl] at (rel axis cs:0.601,0.93) {PV 1118,1128};
\nextgroupplot[ymin=0.8607,ymax=1.0398,ytick={0.9,0.95,1.0},yticklabels={0.90,0.95,1.00}]
\six{p14}\dl{652}{0.8607}{1.0398}
\node[ttl] at (rel axis cs:0.599,0.93) {AlIII 1855,1863};
% row 2
\nextgroupplot[ymin=0.117,ymax=1.153,ytick={0.2,0.4,0.6,0.8,1.0},yticklabels={0.2,0.4,0.6,0.8,1.0},ylabel={Normalized Flux}]
\four{p21}\dl{968}{0.117}{1.153}
\node[ttl] at (rel axis cs:0.51,0.93) {SiIV 1394,1403};
\node[big] at (rel axis cs:0.055,0.19) {LoBALs};
\nextgroupplot[ymin=0,ymax=1.188,ytick={0,0.2,0.4,0.6,0.8,1.0},yticklabels={0.0,0.2,0.4,0.6,0.8,1.0}]
\four{p22}\dl{249}{0}{1.188}
\node[ttl] at (rel axis cs:0.511,0.93) {CIV 1548,1551};
\nextgroupplot[ymin=0.434,ymax=1.129,ytick={0.5,0.6,0.7,0.8,0.9,1.0,1.1},yticklabels={0.5,0.6,0.7,0.8,0.9,1.0,1.1}]
\four{p23}\dl{1345}{0.434}{1.129}
\node[ttl] at (rel axis cs:0.601,0.93) {PV 1118,1128};
\nextgroupplot[ymin=0.65,ymax=1.08,ytick={0.65,0.7,0.75,0.8,0.85,0.9,0.95,1.0,1.05},yticklabels={0.65,0.70,0.75,0.80,0.85,0.90,0.95,1.00,1.05}]
\four{p24}\dl{652}{0.65}{1.08}
\node[ttl] at (rel axis cs:0.599,0.93) {AlIII 1855,1863};
% row 3
\nextgroupplot[ymin=0.123,ymax=1.17,ytick={0.2,0.4,0.6,0.8,1.0},yticklabels={0.2,0.4,0.6,0.8,1.0},ylabel={Normalized Flux},xlabel={Velocity (km/s)}]
\four{p31}\dl{968}{0.123}{1.17}
\node[ttl] at (rel axis cs:0.51,0.93) {SiIV 1394,1403};
\node[big] at (rel axis cs:0.055,0.187) {PV BALs};
\nextgroupplot[ymin=0,ymax=1.192,ytick={0,0.2,0.4,0.6,0.8,1.0},yticklabels={0.0,0.2,0.4,0.6,0.8,1.0},xlabel={Velocity (km/s)}]
\four{p32}\dl{249}{0}{1.192}
\node[ttl] at (rel axis cs:0.511,0.93) {CIV 1548,1551};
\nextgroupplot[ymin=0.342,ymax=1.128,ytick={0.4,0.5,0.6,0.7,0.8,0.9,1.0,1.1},yticklabels={0.4,0.5,0.6,0.7,0.8,0.9,1.0,1.1},xlabel={Velocity (km/s)}]
\four{p33}\dl{1345}{0.342}{1.128}
\node[ttl] at (rel axis cs:0.601,0.93) {PV 1118,1128};
\nextgroupplot[ymin=0.721,ymax=1.058,ytick={0.75,0.8,0.85,0.9,0.95,1.0,1.05},yticklabels={0.75,0.80,0.85,0.90,0.95,1.00,1.05},xlabel={Velocity (km/s)}]
\four{p34}\dl{652}{0.721}{1.058}
\node[ttl] at (rel axis cs:0.599,0.93) {AlIII 1855,1863};
\end{groupplot}
\pgfresetboundingbox
\path ([xshift=-46.7pt,yshift=5pt]group c1r1.north west) rectangle ([xshift=6pt,yshift=-35.8pt]group c4r3.south east);
\end{tikzpicture}
\end{document}
